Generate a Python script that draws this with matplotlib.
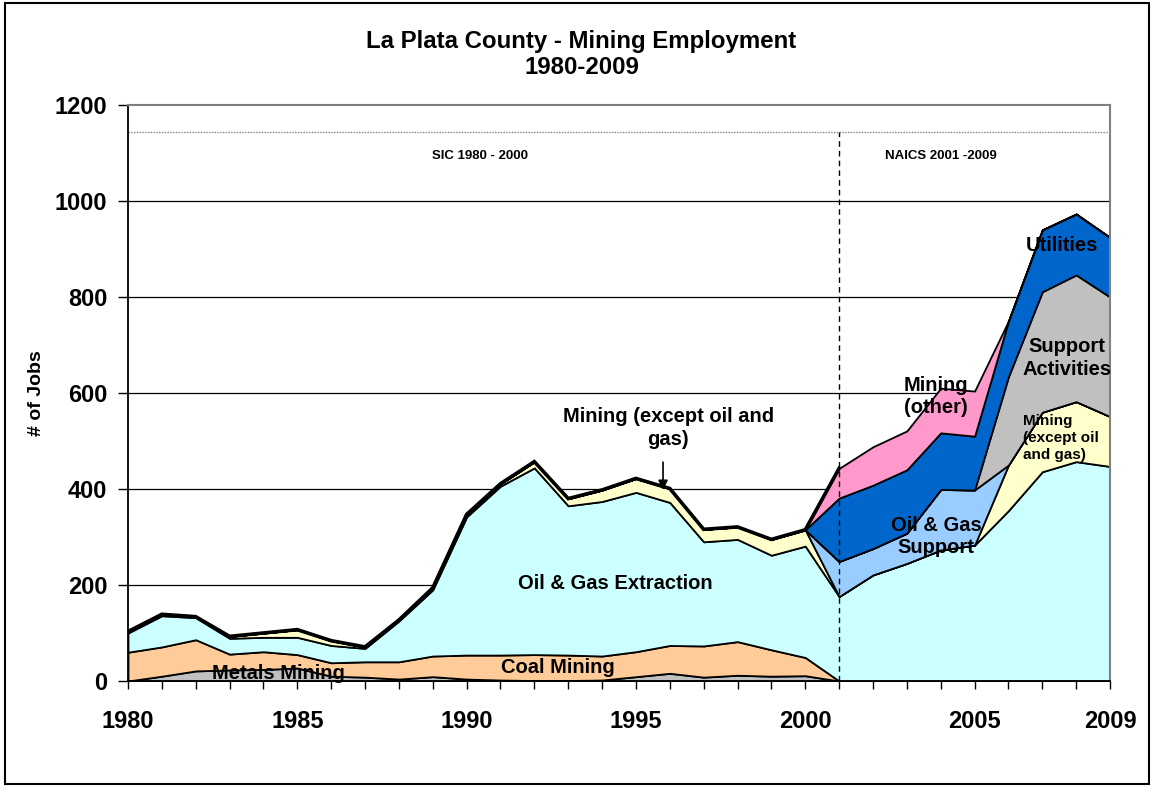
#!/usr/bin/env python3
"""La Plata County mining employment 1980-2009, stacked area (SIC then NAICS)."""
import numpy as np
import matplotlib
matplotlib.use("Agg")
import matplotlib.pyplot as plt
from matplotlib.patches import Rectangle

plt.rcParams["font.family"] = ["Liberation Sans", "DejaVu Sans"]
plt.rcParams["font.weight"] = "bold"

YEARS = list(range(1980, 2010))

# SIC series 1980-2000 (zero afterwards)
metals_mining = [0, 10, 21, 23, 24, 27, 10, 8, 4, 9, 4, 2, 1, 1, 2, 9, 16, 8, 12, 10, 11,
                 0, 0, 0, 0, 0, 0, 0, 0, 0]
coal_mining = [60, 61, 65, 33, 37, 28, 28, 32, 36, 43, 50, 52, 54, 53, 50, 52, 58, 65, 70, 55, 38,
               0, 0, 0, 0, 0, 0, 0, 0, 0]
# both classifications
oil_gas_extraction = [40, 65, 46, 33, 30, 36, 36, 28, 85, 138, 288, 352, 389, 311, 322, 332, 298,
                      217, 213, 197, 232, 176, 221, 245, 273, 283, 355, 436, 457, 447]
mining_except_oil_gas = [3, 3, 2, 4, 9, 16, 10, 3, 2, 4, 5, 5, 13, 15, 24, 29, 29, 26, 26, 33, 34,
                         0, 0, 0, 0, 0, 95, 124, 125, 104]
# NAICS series 2001-2009
oil_gas_support = [0] * 21 + [73, 55, 63, 126, 115, 0, 0, 0, 0]
support_activities = [0] * 21 + [0, 0, 0, 0, 0, 184, 251, 264, 249]
utilities = [0] * 21 + [132, 132, 132, 118, 112, 116, 129, 127, 124]
mining_other = [0] * 21 + [62, 80, 81, 93, 94, 0, 0, 0, 0]

SERIES = [metals_mining, coal_mining, oil_gas_extraction, mining_except_oil_gas,
          oil_gas_support, support_activities, utilities, mining_other]
COLORS = ["#C0C0C0", "#FFCC99", "#CCFFFF", "#FFFFCC",
          "#99CCFF", "#C0C0C0", "#0066CC", "#FF99CC"]

TICK_LABELS = {1980: "1980", 1985: "1985", 1990: "1990", 1995: "1995",
               2000: "2000", 2005: "2005", 2009: "2009"}
SPLIT_YEAR = 2001
BOX_TOP = 1144  # dotted line where the SIC/NAICS captions sit


def main():
    fig = plt.figure(figsize=(11.54, 7.86), dpi=100)
    ax = fig.add_axes([0.1109, 0.1336, 0.851, 0.7328])

    ax.stackplot(YEARS, *SERIES, colors=COLORS, edgecolor="black", linewidth=1.3)
    sic_top = np.sum(SERIES, axis=0)[:22]
    ax.plot(YEARS[:22], sic_top, color="black", lw=2.6, solid_joinstyle="miter")

    ax.set_xlim(1980, 2009)
    ax.set_ylim(0, 1200)
    ax.set_yticks(range(0, 1201, 200))
    ax.set_xticks(YEARS)
    ax.set_xticklabels([TICK_LABELS.get(y, "") for y in YEARS])
    ax.tick_params(axis="x", direction="out", length=6, width=1, pad=15, labelsize=17)
    ax.tick_params(axis="y", direction="out", length=7, width=1, pad=8, labelsize=17)
    for t in ax.get_xticklabels() + ax.get_yticklabels():
        t.set_fontweight("bold")
    for y in range(200, 1200, 200):
        ax.axhline(y, color="black", lw=0.9, zorder=0.5)
    for side in ("left", "bottom"):
        ax.spines[side].set_color("black")
        ax.spines[side].set_linewidth(1.3)
    for side in ("top", "right"):
        ax.spines[side].set_color("#808080")
        ax.spines[side].set_linewidth(1.5)

    ax.axhline(BOX_TOP, color="#808080", lw=1, ls=(0, (1, 1)))
    ax.plot([SPLIT_YEAR, SPLIT_YEAR], [0, BOX_TOP], color="black", lw=1, ls=(0, (4, 3)))

    ax.set_ylabel("# of Jobs", fontsize=14, fontweight="bold")
    ax.yaxis.set_label_coords(-0.085, 0.5)
    fig.suptitle("La Plata County - Mining Employment\n1980-2009", x=0.504, y=0.962,
                 fontsize=17.3, fontweight="bold", linespacing=1.2)

    lab = dict(ha="center", va="center", fontsize=14.5, fontweight="bold")
    ax.text(1984.43, 16, "Metals Mining", **lab)
    ax.text(1992.70, 29, "Coal Mining", **lab)
    ax.text(1994.38, 204, "Oil & Gas Extraction", **lab)
    ax.text(1995.95, 527, "Mining (except oil and\ngas)", linespacing=1.3, **lab)
    ax.annotate("", xy=(1995.8, 398), xytext=(1995.8, 456),
                arrowprops=dict(arrowstyle="-|>", color="black", lw=1.2,
                                mutation_scale=14, shrinkA=0, shrinkB=0))
    ax.text(2003.86, 300, "Oil & Gas\nSupport", linespacing=1.2, **lab)
    ax.text(2003.86, 592, "Mining\n(other)", linespacing=1.2, **lab)
    ax.text(2007.58, 908, "Utilities", **lab)
    ax.text(2007.73, 673, "Support\nActivities", linespacing=1.25, **lab)
    ax.text(2006.43, 506, "Mining\n(except oil\nand gas)", ha="left", va="center",
            fontsize=11, fontweight="bold", linespacing=1.25)

    ax.text(1990.4, 1094, "SIC 1980 - 2000", ha="center", va="center", fontsize=9.5,
            fontweight="bold")
    ax.text(2004.0, 1094, "NAICS 2001 -2009", ha="center", va="center", fontsize=9.5,
            fontweight="bold")

    fig.patches.append(Rectangle((0.004, 0.002), 0.992, 0.994, transform=fig.transFigure,
                                 fill=False, edgecolor="black", lw=1.5))
    fig.savefig("out.png", dpi=100)


if __name__ == "__main__":
    main()
